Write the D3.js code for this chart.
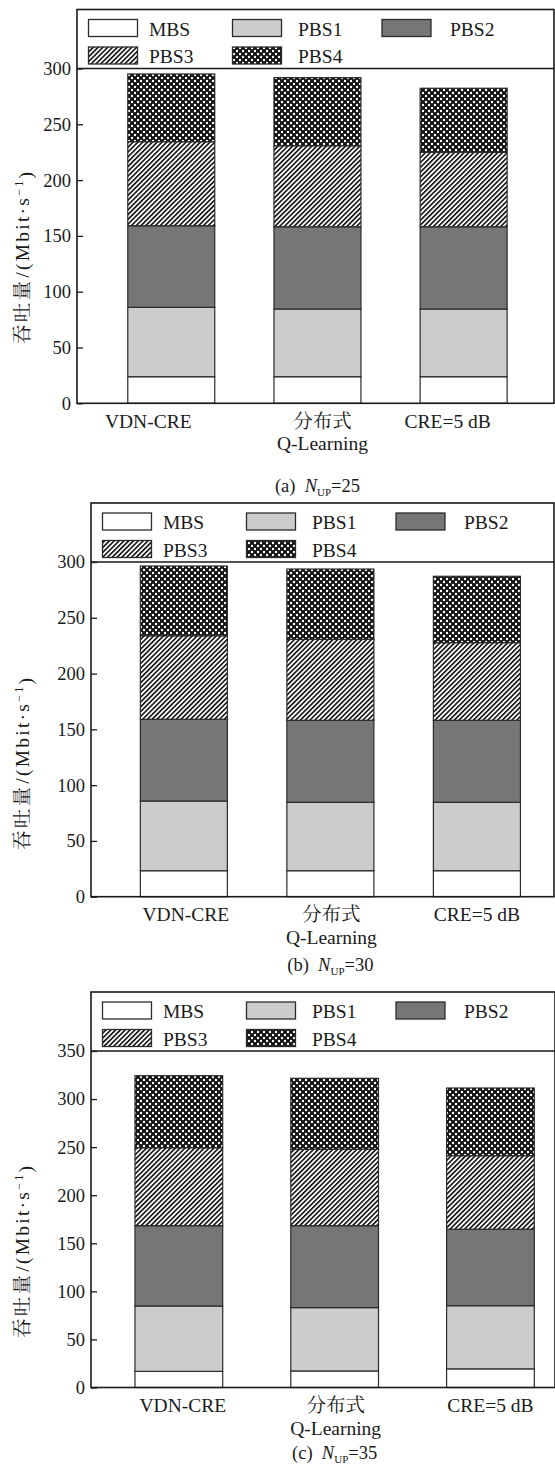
<!DOCTYPE html>
<html>
<head>
<meta charset="utf-8">
<script src="https://cdn.jsdelivr.net/npm/d3@7"></script>
<style>
  body { margin: 0; background: #fff; }
  svg text { font-family: "Times New Roman", "Liberation Serif", "DejaVu Serif", "Noto Serif CJK SC", "Noto Sans CJK SC", serif; fill: #1a1a1a; }
</style>
</head>
<body>
<div id="chart"></div>
<script>
// categories and series
var methods = ["VDN-CRE", "分布式|Q-Learning", "CRE=5 dB"];
var series = ["MBS", "PBS1", "PBS2", "PBS3", "PBS4"];

// throughput per base station (Mbit/s), one row per method, columns follow `series`
var valuesA = [
  [23.8, 62.2, 73.1, 75.3, 60.7],
  [23.8, 60.7, 73.7, 72.6, 61.0],
  [23.8, 60.7, 73.7, 66.7, 57.4]
];
var valuesB = [
  [23.3, 62.5, 73.2, 74.9, 62.5],
  [23.3, 61.3, 73.5, 72.6, 63.0],
  [23.3, 61.3, 73.5, 69.6, 59.5]
];
var valuesC = [
  [16.8, 68.0, 83.5, 81.1, 74.9],
  [17.2, 65.9, 85.2, 79.5, 73.8],
  [19.4, 65.7, 79.5, 76.5, 70.4]
];

var ticksAB = [0, 50, 100, 150, 200, 250, 300];
var ticksC = [0, 50, 100, 150, 200, 250, 300, 350];
var panelTags = ["a", "b", "c"];
var nUp = [25, 30, 35];

var SERIF = "'Times New Roman', 'Liberation Serif', serif";

// layout of the three stacked panels (pixels)
var panels = [
  { values: valuesA, ticks: ticksAB, left: 77, right: 554, axisTop: 68.5, axisBottom: 403.3,
    pIn: 0.405, pOut: 0.334, align: 0.52, labelShift: [-23, 5, -16], titleY: 258, capDy: 89 },
  { values: valuesB, ticks: ticksAB, left: 91, right: 554, axisTop: 562, axisBottom: 896.7,
    pIn: 0.406, pOut: 0.283, align: 0.595, labelShift: [2, 1, 0], titleY: 764, capDy: 74 },
  { values: valuesC, ticks: ticksC, left: 91, right: 555, axisTop: 1051, axisBottom: 1387.5,
    pIn: 0.437, pOut: 0.2075, align: 0.68, labelShift: [4, 1, 0], titleY: 1252, capDy: 71 }
];

var fills = {
  MBS: "#ffffff",
  PBS1: "#cccccc",
  PBS2: "#767676",
  PBS3: "url(#hatch)",
  PBS4: "url(#dots)"
};

var svg = d3.select("#chart").append("svg")
  .attr("width", 555)
  .attr("height", 1474);

var defs = svg.append("defs");

var hatch = defs.append("pattern")
  .attr("id", "hatch")
  .attr("patternUnits", "userSpaceOnUse")
  .attr("width", 3.4).attr("height", 3.4)
  .attr("patternTransform", "rotate(45)");
hatch.append("rect").attr("width", 3.4).attr("height", 3.4).attr("fill", "#fff");
hatch.append("rect").attr("width", 1.6).attr("height", 3.4).attr("fill", "#111");

var dots = defs.append("pattern")
  .attr("id", "dots")
  .attr("patternUnits", "userSpaceOnUse")
  .attr("width", 6).attr("height", 6);
dots.append("rect").attr("width", 6).attr("height", 6).attr("fill", "#141414");
[[0, 0], [6, 0], [0, 6], [6, 6], [3, 3]].forEach(function (p) {
  dots.append("circle").attr("cx", p[0]).attr("cy", p[1]).attr("r", 1.2).attr("fill", "#fff");
});

panels.forEach(function (p, pi) {
  var g = svg.append("g");
  var ymax = p.ticks[p.ticks.length - 1];
  var top = p.axisTop - 59;

  var y = d3.scaleLinear().domain([0, ymax]).range([p.axisBottom, p.axisTop]);
  var x = d3.scaleBand().domain(methods)
    .range([p.left, p.right])
    .paddingInner(p.pIn).paddingOuter(p.pOut).align(p.align);

  var rows = p.values.map(function (v, i) {
    var o = { method: methods[i] };
    series.forEach(function (s, j) { o[s] = v[j]; });
    return o;
  });
  var stacked = d3.stack().keys(series)(rows);

  // bars
  g.selectAll(".layer")
    .data(stacked)
    .enter().append("g")
    .attr("class", "layer")
    .attr("fill", function (d) { return fills[d.key]; })
    .selectAll("rect")
    .data(function (d) { return d; })
    .enter().append("rect")
    .attr("x", function (d) { return x(d.data.method); })
    .attr("y", function (d) { return y(d[1]); })
    .attr("width", x.bandwidth())
    .attr("height", function (d) { return y(d[0]) - y(d[1]); })
    .attr("stroke", "#2b2b2b")
    .attr("stroke-width", 1.2);

  // frame and legend separator
  g.append("rect")
    .attr("x", p.left).attr("y", top)
    .attr("width", p.right - p.left).attr("height", p.axisBottom - top)
    .attr("fill", "none").attr("stroke", "#1a1a1a").attr("stroke-width", 1.6);
  g.append("line")
    .attr("x1", p.left).attr("x2", p.right)
    .attr("y1", p.axisTop).attr("y2", p.axisTop)
    .attr("stroke", "#1a1a1a").attr("stroke-width", 1.6);

  // y axis with inward ticks
  var ax = g.append("g")
    .attr("transform", "translate(" + p.left + ",0)")
    .call(d3.axisLeft(y).tickValues(p.ticks).tickSizeInner(-6).tickSizeOuter(0).tickPadding(6));
  ax.select(".domain").remove();
  ax.selectAll(".tick line").attr("stroke", "#1a1a1a").attr("stroke-width", 1.3);
  ax.selectAll(".tick text")
    .style("font-family", SERIF)
    .style("font-size", "18.5px")
    .attr("fill", "#1a1a1a");

  // y title
  var t = g.append("text")
    .attr("transform", "translate(22," + p.titleY + ") rotate(-90)")
    .attr("text-anchor", "middle")
    .attr("dy", "0.35em")
    .attr("textLength", 172)
    .attr("lengthAdjust", "spacing")
    .style("font-size", "19.5px");
  t.append("tspan").text("吞吐量");
  t.append("tspan").style("font-family", SERIF).attr("dx", 1).text("/(Mbit·s");
  t.append("tspan").attr("dy", "-0.45em").style("font-family", SERIF).style("font-size", "12px").text("−1");
  t.append("tspan").attr("dy", "0.45em").style("font-family", SERIF).text(")");

  // category labels
  methods.forEach(function (m, i) {
    var cx = x(m) + x.bandwidth() / 2 + p.labelShift[i];
    var parts = m.split("|");
    parts.forEach(function (s, k) {
      g.append("text")
        .attr("x", cx)
        .attr("y", p.axisBottom + 24.5 + k * 22.5)
        .attr("text-anchor", "middle")
        .style("font-family", /[\u4e00-\u9fff]/.test(s) ? null : SERIF)
        .style("font-size", "19.5px")
        .text(s);
    });
  });

  // legend
  var colX = [11.5, 155.5, 305];
  var txtX = [72, 221, 373];
  series.forEach(function (s, i) {
    var c = i % 3, r = Math.floor(i / 3);
    g.append("rect")
      .attr("x", p.left + colX[c]).attr("y", top + 10 + r * 27.5)
      .attr("width", 49).attr("height", 17)
      .attr("fill", fills[s]).attr("stroke", "#2b2b2b").attr("stroke-width", 1.3);
    g.append("text")
      .attr("x", p.left + txtX[c]).attr("y", top + 26 + r * 27.5)
      .style("font-family", SERIF)
      .style("font-size", "19.5px")
      .text(s);
  });

  // caption
  var cap = g.append("text")
    .attr("x", x(methods[1]) + x.bandwidth() / 2)
    .attr("y", p.axisBottom + p.capDy)
    .attr("text-anchor", "middle")
    .style("font-family", SERIF)
    .style("font-size", "18.5px");
  cap.append("tspan").text("(" + panelTags[pi] + ")\u00a0\u00a0");
  cap.append("tspan").style("font-style", "italic").text("N");
  cap.append("tspan").attr("dy", "4").style("font-size", "11px").text("UP");
  cap.append("tspan").attr("dy", "-4").text("=" + nUp[pi]);
});
</script>
</body>
</html>
